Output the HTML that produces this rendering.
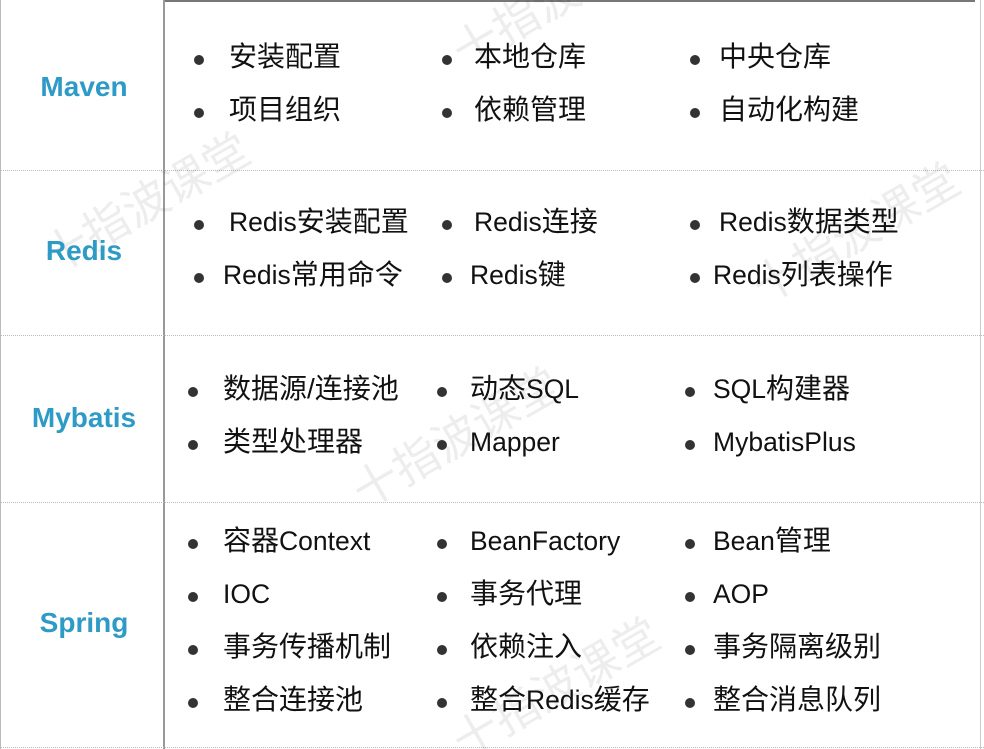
<!DOCTYPE html>
<html><head><meta charset="utf-8"><style>
html,body{margin:0;padding:0;background:#fff;}
#c{position:relative;width:984px;height:749px;overflow:hidden;font-family:"Liberation Sans","Noto Sans CJK SC",sans-serif;}
.t{position:absolute;font-size:28px;color:#111;line-height:1;white-space:nowrap;transform:translateY(-50%);}
.t i{font-style:normal;font-size:26.5px;}
.b{position:absolute;width:10px;height:10px;border-radius:50%;background:#333;transform:translate(-50%,-50%);}
.l{position:absolute;font-size:28px;font-weight:bold;color:#2e9bc6;line-height:1;transform:translate(-50%,-50%);white-space:nowrap;}
.h{position:absolute;left:0;width:984px;border-top:1px dotted #bbb;}
.w{position:absolute;font-size:46px;color:rgba(0,0,0,0.07);transform:rotate(-30deg);transform-origin:left center;white-space:nowrap;font-family:"Noto Sans CJK SC",sans-serif;}
</style></head><body><div id="c">
<div style="position:absolute;left:163px;top:0;width:812px;height:2px;background:#777"></div>
<div style="position:absolute;left:0;top:0;width:1px;height:749px;background:#bbb"></div>
<div style="position:absolute;left:163px;top:0;width:2px;height:749px;background:#999"></div>
<div style="position:absolute;left:980px;top:0;width:1px;height:749px;background:#ccc"></div>
<div class="h" style="top:170px"></div>
<div class="h" style="top:335px"></div>
<div class="h" style="top:502px"></div>
<div class="h" style="top:747px"></div>

<div class="w" style="left:45px;top:225px">十指波课堂</div>
<div class="w" style="left:455px;top:20px">十指波课堂</div>
<div class="w" style="left:755px;top:255px">十指波课堂</div>
<div class="w" style="left:355px;top:460px">十指波课堂</div>
<div class="w" style="left:455px;top:710px">十指波课堂</div>

<div class="l" style="left:84px;top:87px">Maven</div>
<div class="l" style="left:84px;top:251px">Redis</div>
<div class="l" style="left:84px;top:418px">Mybatis</div>
<div class="l" style="left:84px;top:623px">Spring</div>

<div class="b" style="left:199px;top:60px"></div><div class="t" style="left:229px;top:57px">安装配置</div>
<div class="b" style="left:447px;top:60px"></div><div class="t" style="left:474px;top:57px">本地仓库</div>
<div class="b" style="left:695px;top:60px"></div><div class="t" style="left:719px;top:57px">中央仓库</div>
<div class="b" style="left:199px;top:113px"></div><div class="t" style="left:229px;top:110px">项目组织</div>
<div class="b" style="left:447px;top:113px"></div><div class="t" style="left:474px;top:110px">依赖管理</div>
<div class="b" style="left:695px;top:113px"></div><div class="t" style="left:719px;top:110px">自动化构建</div>

<div class="b" style="left:199px;top:225px"></div><div class="t" style="left:229px;top:222px"><i>Redis</i>安装配置</div>
<div class="b" style="left:447px;top:225px"></div><div class="t" style="left:474px;top:222px"><i>Redis</i>连接</div>
<div class="b" style="left:695px;top:225px"></div><div class="t" style="left:719px;top:222px"><i>Redis</i>数据类型</div>
<div class="b" style="left:199px;top:278px"></div><div class="t" style="left:223px;top:275px"><i>Redis</i>常用命令</div>
<div class="b" style="left:447px;top:278px"></div><div class="t" style="left:470px;top:275px"><i>Redis</i>键</div>
<div class="b" style="left:695px;top:278px"></div><div class="t" style="left:713px;top:275px"><i>Redis</i>列表操作</div>

<div class="b" style="left:193px;top:392px"></div><div class="t" style="left:223px;top:389px">数据源/连接池</div>
<div class="b" style="left:442px;top:392px"></div><div class="t" style="left:470px;top:389px">动态<i>SQL</i></div>
<div class="b" style="left:690px;top:392px"></div><div class="t" style="left:713px;top:389px"><i>SQL</i>构建器</div>
<div class="b" style="left:193px;top:445px"></div><div class="t" style="left:223px;top:442px">类型处理器</div>
<div class="b" style="left:442px;top:445px"></div><div class="t" style="left:470px;top:442px"><i>Mapper</i></div>
<div class="b" style="left:690px;top:445px"></div><div class="t" style="left:713px;top:442px"><i>MybatisPlus</i></div>

<div class="b" style="left:193px;top:544px"></div><div class="t" style="left:223px;top:541px">容器<i>Context</i></div>
<div class="b" style="left:442px;top:544px"></div><div class="t" style="left:470px;top:541px"><i>BeanFactory</i></div>
<div class="b" style="left:690px;top:544px"></div><div class="t" style="left:713px;top:541px"><i>Bean</i>管理</div>
<div class="b" style="left:193px;top:597px"></div><div class="t" style="left:223px;top:594px"><i>IOC</i></div>
<div class="b" style="left:442px;top:597px"></div><div class="t" style="left:470px;top:594px">事务代理</div>
<div class="b" style="left:690px;top:597px"></div><div class="t" style="left:713px;top:594px"><i>AOP</i></div>
<div class="b" style="left:193px;top:650px"></div><div class="t" style="left:223px;top:647px">事务传播机制</div>
<div class="b" style="left:442px;top:650px"></div><div class="t" style="left:470px;top:647px">依赖注入</div>
<div class="b" style="left:690px;top:650px"></div><div class="t" style="left:713px;top:647px">事务隔离级别</div>
<div class="b" style="left:193px;top:703px"></div><div class="t" style="left:223px;top:700px">整合连接池</div>
<div class="b" style="left:442px;top:703px"></div><div class="t" style="left:470px;top:700px">整合<i>Redis</i>缓存</div>
<div class="b" style="left:690px;top:703px"></div><div class="t" style="left:713px;top:700px">整合消息队列</div>
</div></body></html>
